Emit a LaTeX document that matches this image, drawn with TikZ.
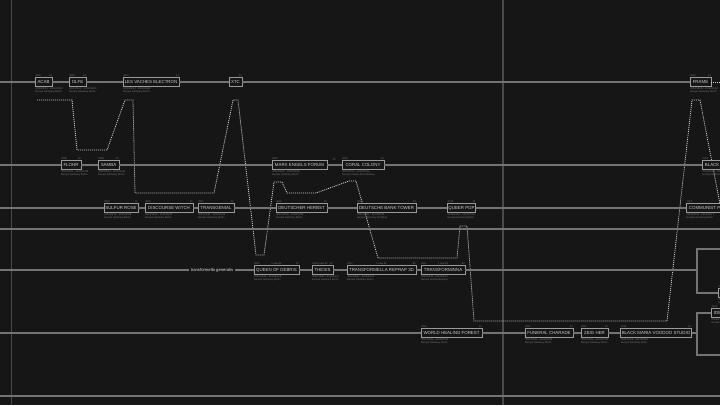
\documentclass[tikz,border=0pt]{standalone}
\usepackage{fontspec}
\setmainfont{Liberation Sans}
\definecolor{bg}{HTML}{161616}
\definecolor{trk}{HTML}{747474}
\definecolor{boxc}{HTML}{9A9A9A}
\definecolor{boxt}{HTML}{CCCCCC}
\definecolor{tinyc}{HTML}{7A7A7A}
\definecolor{dotc}{HTML}{D0D0D0}
\definecolor{vline}{HTML}{4A4A4A}
\newcommand\bx[9]{%
  \node[bxs, minimum width={#3pt-#2pt}] (#1) at ({(#2+#3)/2},#4) {#5};
  \node[tl, anchor=south west] at (#1.north west) {#6};
  \node[tl, anchor=south east] at (#1.north east) {#7};
  \node[tl, anchor=north west, align=left] at (#1.south west) {#8\\#9};
}
\newcommand\bxr[6]{% box cut by the right edge: name, x1, y, text, year, line1
  \node[bxs, anchor=west, inner xsep=2.5pt] (#1) at (#2,#3) {#4};
  \node[tl, anchor=south west] at (#1.north west) {#5};
  \node[tl, anchor=north west, align=left] at (#1.south west) {#6\\Europe Germany Berlin};
}
\begin{document}
\begin{tikzpicture}[x=1pt,y=-1pt,
  bxs/.style={draw=boxc, fill=bg, line width=0.8pt, text=boxt,
    font=\fontsize{4.4}{5}\selectfont, minimum height=8.5pt, inner xsep=1pt, inner ysep=0pt},
  track/.style={draw=trk, line width=1.3pt},
  lineage/.style={draw=dotc, line width=0.8pt, dash pattern=on 1pt off 1pt},
  tl/.style={font=\fontsize{2.5}{3}\selectfont, text=tinyc, inner sep=0.5pt},
  mid/.style={tl, anchor=south}]
\useasboundingbox (0,0) rectangle (720,405);
\fill[bg] (0,0) rectangle (720,405);
\clip (0,0) rectangle (720,405);
% vertical guides
\coordinate (v1t) at (11,0); \coordinate (v1b) at (11,405);
\coordinate (v2t) at (503,0); \coordinate (v2b) at (503,405);
\draw[vline, line width=0.8pt] (v1t) -- (v1b);
\draw[vline, line width=1.6pt] (v2t) -- (v2b);
% lineage path
\draw[lineage] (37,100) -- (72,100) -- (77,150) -- (107,150) -- (125,100) -- (133,100)
  -- (135,193) -- (214,193) -- (233,100) -- (238,100) -- (256,255) -- (264,255)
  -- (274,182) -- (282,182) -- (287,193) -- (316,193) -- (349,181) -- (356,181)
  -- (378,258) -- (457,258) -- (460,226) -- (467,226) -- (474,321) -- (667,321)
  -- (692,100) -- (700,100) -- (724,225);
% row 1
\bx{acab}{35}{52}{82}{ACAB}{2009}{13}{2009/06/19 - 2013/02/14}{Europe Germany Berlin}
\bx{olfe}{69}{86}{82}{OLFE}{2010}{13}{2010/01/07 - 2013/05/20}{Europe Germany Berlin}
\bx{lva}{123}{179}{82}{LES VACHES ELECTRON}{2010}{13}{2010/03/12 - 2013/08/02}{Europe Germany Berlin}
\bx{xtc}{229}{242}{82}{XTC}{}{13}{}{}
\bx{frame}{690}{711}{82}{FRAME}{2013}{14}{2013/10/05 - 2014/06/18}{Europe Germany Berlin}
% row 2
\bx{flohr}{61}{81}{165}{FLOHR}{2009}{10}{2009/02/11 - 2010/09/30}{Europe Germany Berlin}
\bx{samba}{98}{119}{165}{SAMBA}{2009}{10}{2009/08/14 - 2010/11/03}{Europe Germany Berlin}
\bx{marx}{272}{327}{165}{MARX ENGELS FORUM}{2012}{}{2012/01/16 - 2013/03/28}{Europe Germany Berlin}
\node[tl, anchor=south] at (334,161) {13};
\bx{coral}{342}{384}{165}{CORAL COLONY}{2012}{13}{2012/07/21 - 2013/06/14}{Europe Greater Mecklenburg}
\bxr{black}{702}{165}{BLACK MARIA}{2013}{2013/11/02 - 2014/05/06}
% row 3
\bx{sulfur}{104}{138}{208}{SULFUR ROSE}{2010}{11}{2010/04/02 - 2011/02/09}{Europe Germany Berlin}
\bx{witch}{145}{193}{208}{DISCOURSE WITCH}{2010}{11}{2010/06/18 - 2011/05/21}{Europe Germany Berlin}
\bx{transg}{198}{234}{208}{TRANSGENIAL}{2011}{12}{2011/01/27 - 2012/04/15}{Europe Germany Berlin}
\bx{herbst}{276}{327}{208}{DEUTSCHER HERBST}{2012}{13}{2012/09/03 - 2013/01/19}{Europe Germany Berlin}
\bx{bank}{357}{416}{208}{DEUTSCHE BANK TOWER}{2012}{13}{2012/10/11 - 2013/04/22}{Europe Germany Frankfurt}
\bx{queer}{451}{472}{208}{QUEER POP}{2012}{13}{2012/12/01 - 2013/07/30}{Europe Germany Berlin}
\bxr{commie}{686}{208}{COMMUNIST PARTY}{2013}{2013/08/09 - 2014/02/17}
% row 5
\node[fill=bg, text=white!90!black, font=\fontsize{4.2}{5}\selectfont, inner xsep=2pt, inner ysep=1pt] (tg) at (212,270) {transformella generalis};
\bx{queen}{254}{299}{270}{QUEEN OF DEBRIS}{2011}{02}{2011/02/14 - 2011/02/28}{Europe Germany Berlin}
\node[mid] at (queen.north) {1 new 02};
\bx{thesis}{312}{333}{270}{THESIS}{2011}{02}{2011/02/03 - 2011/02/21}{Europe Germany Berlin}
\node[mid] at (thesis.north) {1 new 02};
\bx{reprap}{347}{416}{270}{TRANSFORMELLA REPRAP 3D}{2011}{02}{2011/02/07 - 2011/02/25}{Europe Germany Berlin}
\node[mid] at (reprap.north) {1 new 02};
\bx{tminna}{421}{465}{270}{TRANSFORMINNA}{2011}{02}{2011/02/11 - 2011/02/27}{Europe Austria Bregenz}
\node[mid] at (tminna.north) {1 new 02};
% row 6
\bx{whf}{421}{482}{333}{WORLD HEALING FOREST}{2011}{12}{2011/05/04 - 2012/03/10}{Europe Germany Berlin}
\bx{funeral}{525}{573}{333}{FUNERAL CHARADE}{2011}{12}{2011/06/22 - 2012/05/09}{Europe Germany Berlin}
\bx{zeig}{581}{608}{333}{ZEIG HER}{2011}{12}{2011/09/14 - 2012/07/02}{Europe Germany Berlin}
\bx{bmvs}{621}{691}{333}{BLACK MARIA VOODOO STUDIO}{2011}{12}{2011/11/26 - 2012/09/18}{Europe Germany Berlin}
% right-edge boxes
\bxr{far}{718}{293}{ONE}{2013}{2013/02/01 - 2013/09/11}
\bxr{idb}{711}{313}{IDEAL}{2013}{2013/03/15 - 2014/01/04}
% track coordinates
\coordinate (r1L) at (0,82);  \coordinate (r1R) at (720,82);
\coordinate (r2L) at (0,165);
\coordinate (r3L) at (0,208);
\coordinate (r4L) at (0,229); \coordinate (r4R) at (720,229);
\coordinate (r5L) at (0,270); \coordinate (j5) at (697,270);
\coordinate (j5t) at (697,249); \coordinate (j5tR) at (720,249); \coordinate (j5b) at (697,293);
\coordinate (r6L) at (0,333); \coordinate (j6) at (697,333);
\coordinate (j6t) at (697,313); \coordinate (j6b) at (697,355); \coordinate (j6bR) at (720,355);
\coordinate (r7L) at (0,396); \coordinate (r7R) at (720,396);
% tracks
\draw[track] (r1L) -- (acab) -- (olfe) -- (lva) -- (xtc) -- (frame);
\draw[lineage] (frame) -- (r1R);
\draw[track] (r2L) -- (flohr) -- (samba) -- (marx) -- (coral) -- (black);
\draw[track] (r3L) -- (sulfur) -- (witch) -- (transg) -- (herbst) -- (bank) -- (queer) -- (commie);
\draw[track] (r4L) -- (r4R);
\draw[track] (r5L) -- (tg) -- (queen) -- (thesis) -- (reprap) -- (tminna) -- (j5);
\draw[track] (j5tR) -- (j5t) -- (j5b) -- (far);
\draw[track] (r6L) -- (whf) -- (funeral) -- (zeig) -- (bmvs) -- (j6);
\draw[track] (idb) -- (j6t) -- (j6b) -- (j6bR);
\draw[track] (r7L) -- (r7R);
\end{tikzpicture}
\end{document}
